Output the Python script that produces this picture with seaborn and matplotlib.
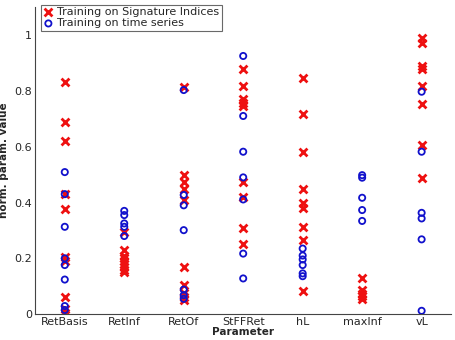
import pandas as pd
import matplotlib
matplotlib.use("Agg")
import matplotlib.pyplot as plt
import seaborn as sns

params = ["RetBasis", "RetInf", "RetOf", "StFFRet", "hL", "maxInf", "vL"]

# normalised parameter values
sig_retbasis = [0.83, 0.69, 0.62, 0.43, 0.375, 0.205, 0.19, 0.06, 0.02, 0.005]
sig_retinf = [0.295, 0.23, 0.21, 0.20, 0.19, 0.18, 0.17, 0.16, 0.15]
sig_retof = [0.815, 0.50, 0.475, 0.45, 0.41, 0.17, 0.105, 0.075, 0.06, 0.05]
sig_stffret = [0.877, 0.817, 0.77, 0.755, 0.745, 0.474, 0.42, 0.31, 0.253]
sig_hl = [0.845, 0.717, 0.58, 0.447, 0.397, 0.382, 0.313, 0.265, 0.082]
sig_maxinf = [0.128, 0.086, 0.074, 0.065, 0.056]
sig_vl = [0.988, 0.972, 0.889, 0.877, 0.817, 0.753, 0.606, 0.489]

ts_retbasis = [0.509, 0.43, 0.313, 0.20, 0.176, 0.124, 0.029, 0.015]
ts_retinf = [0.37, 0.355, 0.325, 0.313, 0.28]
ts_retof = [0.803, 0.427, 0.39, 0.301, 0.088, 0.068, 0.055]
ts_stffret = [0.925, 0.71, 0.582, 0.49, 0.411, 0.217, 0.128]
ts_hl = [0.235, 0.21, 0.196, 0.176, 0.146, 0.136]
ts_maxinf = [0.498, 0.489, 0.417, 0.373, 0.334]
ts_vl = [0.797, 0.582, 0.363, 0.343, 0.268, 0.012]

sig_vals = [sig_retbasis, sig_retinf, sig_retof, sig_stffret, sig_hl, sig_maxinf, sig_vl]
ts_vals = [ts_retbasis, ts_retinf, ts_retof, ts_stffret, ts_hl, ts_maxinf, ts_vl]


def to_long(vals):
    rows = []
    for p, vs in zip(params, vals):
        for v in vs:
            rows.append({"param": p, "value": v})
    df = pd.DataFrame(rows)
    df["param"] = pd.Categorical(df["param"], categories=params, ordered=True)
    return df


df_sig = to_long(sig_vals)
df_ts = to_long(ts_vals)

sns.set_style("white")
fig = plt.figure(figsize=(4.55, 3.4), dpi=100)
ax = fig.add_axes([0.077, 0.076, 0.915, 0.903])

sns.scatterplot(data=df_sig, x="param", y="value", marker="x", color="#ee1111",
                s=32, linewidth=2, ax=ax, label="Training on Signature Indices")
sns.scatterplot(data=df_ts, x="param", y="value", marker="o", facecolor="none",
                edgecolor="#1111cc", s=20, linewidth=1.3, ax=ax,
                label="Training on time series")

ax.set_xlim(-0.5, 6.5)
ax.set_ylim(0, 1.1)
ax.set_yticks([0, 0.2, 0.4, 0.6, 0.8, 1])
ax.set_yticklabels(["0", "0.2", "0.4", "0.6", "0.8", "1"])
ax.tick_params(axis="both", direction="in", length=3, labelsize=8, pad=2)
ax.set_xlabel("Parameter", fontsize=7.5, fontweight="bold", labelpad=0)
ax.set_ylabel("norm. param. value", fontsize=7.5, fontweight="bold", labelpad=4)
sns.despine(ax=ax)
for s in ["left", "bottom"]:
    ax.spines[s].set_color("#444444")

leg = ax.legend(loc="upper left", fontsize=8, frameon=True, fancybox=False,
                borderpad=0.2, handletextpad=0.3, handlelength=1.0,
                labelspacing=0.1, bbox_to_anchor=(0.0, 1.025))
leg.get_frame().set_edgecolor("#444444")
leg.get_frame().set_linewidth(0.8)

fig.savefig("out.png", dpi=100)
